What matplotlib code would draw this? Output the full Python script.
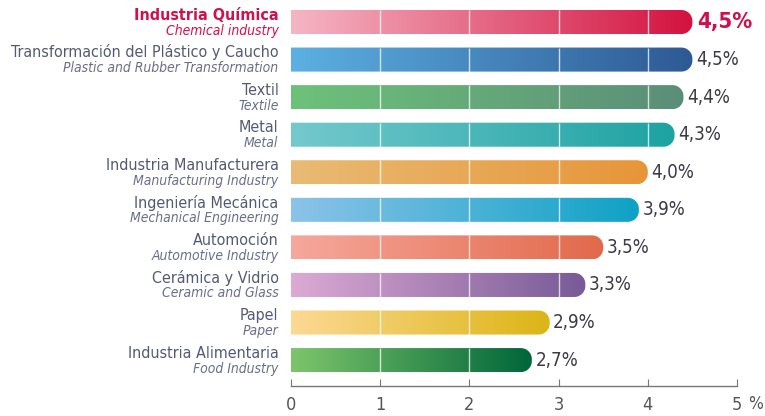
import numpy as np
import matplotlib
matplotlib.use("Agg")
import matplotlib.pyplot as plt
from matplotlib.path import Path
from matplotlib.patches import PathPatch
from matplotlib.colors import to_rgb

# data
labels_es = ["Industria Química", "Transformación del Plástico y Caucho", "Textil", "Metal",
             "Industria Manufacturera", "Ingeniería Mecánica", "Automoción",
             "Cerámica y Vidrio", "Papel", "Industria Alimentaria"]
labels_en = ["Chemical industry", "Plastic and Rubber Transformation", "Textile", "Metal",
             "Manufacturing Industry", "Mechanical Engineering", "Automotive Industry",
             "Ceramic and Glass", "Paper", "Food Industry"]
values = [4.5, 4.5, 4.4, 4.3, 4.0, 3.9, 3.5, 3.3, 2.9, 2.7]
color_start = ["#f5b6c4", "#5cb0e2", "#6dc27a", "#74c9cd", "#e9bb74", "#8cc3e8",
               "#f6a89c", "#dcaad4", "#fcd994", "#7dc56b"]
color_end = ["#d3123f", "#2e5994", "#5b8e78", "#1ea2a2", "#e79538", "#0ea2c6",
             "#e2694b", "#775a96", "#dcb516", "#00663a"]
xticks = [0, 1, 2, 3, 4, 5]

plt.rcParams['font.family'] = ['DejaVu Sans']
plt.rcParams['font.stretch'] = 'condensed'

fig = plt.figure(figsize=(7.65, 4.16), dpi=100)
ax = fig.add_axes([291 / 765, 30 / 416, 446 / 765, 383 / 416])
ax.set_xlim(0, 5)
ax.set_ylim(9.69, -0.506)

bar_h = 0.64
px_x = 446 / 5.0          # pixels per x unit
px_y = 383 / (9.69 + 0.506)  # pixels per y unit
r_px = 11
rx = r_px / px_x
ry = r_px / px_y

for i, v in enumerate(values):
    y0 = i - bar_h / 2
    y1 = i + bar_h / 2
    # square left end, rounded right end
    verts = [(0, y0), (v - rx, y0)]
    for t in np.linspace(-np.pi / 2, 0, 10):
        verts.append((v - rx + rx * np.cos(t), y0 + ry + ry * np.sin(t)))
    for t in np.linspace(0, np.pi / 2, 10):
        verts.append((v - rx + rx * np.cos(t), y1 - ry + ry * np.sin(t)))
    verts += [(0, y1), (0, y0)]
    codes = [Path.MOVETO] + [Path.LINETO] * (len(verts) - 2) + [Path.CLOSEPOLY]
    patch = PathPatch(Path(verts, codes), facecolor='none', edgecolor='none')
    ax.add_patch(patch)
    c0 = np.array(to_rgb(color_start[i]))
    c1 = np.array(to_rgb(color_end[i]))
    t = np.linspace(0, 1, 256)[:, None]
    grad = (c0 + (c1 - c0) * t)[None, :, :]
    im = ax.imshow(grad, extent=(0, v, y1, y0), aspect='auto', zorder=2,
                   interpolation='bilinear')
    im.set_clip_path(patch)

    # white grid lines only across the bar
    gx = [x for x in xticks[1:-1] if x < v - 0.05]
    ax.vlines(gx, y0, y1, colors='white', lw=1, alpha=0.75, zorder=3)

    txt = f"{v:.1f}".replace(".", ",") + "%"
    if i == 0:
        ax.text(v + 0.05, i, txt, ha='left', va='center', fontsize=16,
                fontweight='bold', color='#d0104c')
        es_color, en_color, es_weight = '#d0104c', '#d0104c', 'bold'
    else:
        ax.text(v + 0.04, i, txt, ha='left', va='center', fontsize=13.5,
                color='#3c3c48')
        es_color, en_color, es_weight = '#555a74', '#6a6e8a', 'normal'

    ax.text(-0.14, i + 0.02, labels_es[i], ha='right', va='bottom', fontsize=11.5,
            color=es_color, fontweight=es_weight)
    ax.text(-0.14, i + 0.04, labels_en[i], ha='right', va='top', fontsize=10,
            color=en_color, style='italic')

for s in ['top', 'right', 'left']:
    ax.spines[s].set_visible(False)
ax.spines['bottom'].set_color('#777777')
ax.spines['bottom'].set_linewidth(1)
ax.set_yticks([])
ax.set_xticks(xticks)
ax.set_xticklabels([str(x) for x in xticks])
ax.tick_params(axis='x', direction='in', length=5, color='#777777',
               labelsize=13, labelcolor='#555555', pad=7)
fig.text(748 / 765, 12 / 416, "%", ha='left', va='center', fontsize=12.5,
         color='#555555')

fig.savefig("out.png", dpi=100)
